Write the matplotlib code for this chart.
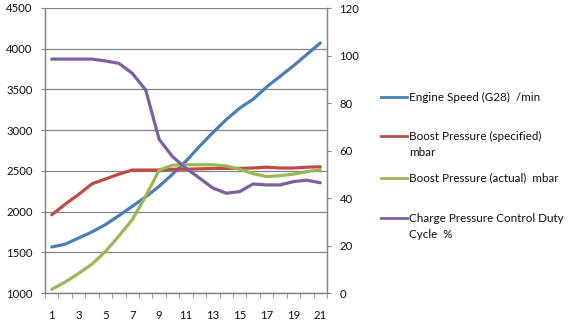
import matplotlib
matplotlib.use("Agg")
import matplotlib.pyplot as plt
from matplotlib.lines import Line2D
import numpy as np

plt.rcParams["font.family"] = ["Lato", "DejaVu Sans"]

# categories 1..21
samples = list(range(1, 22))

engine_speed = [1565, 1600, 1675, 1750, 1840, 1950, 2065, 2180, 2310, 2460, 2620,
                2800, 2970, 3130, 3270, 3380, 3530, 3660, 3790, 3930, 4070]
boost_specified = [1960, 2090, 2210, 2340, 2400, 2460, 2510, 2510, 2510, 2520, 2520,
                   2525, 2530, 2530, 2530, 2535, 2545, 2535, 2535, 2545, 2550]
boost_actual = [1045, 1135, 1240, 1355, 1510, 1700, 1900, 2190, 2510, 2570, 2575,
                2575, 2575, 2560, 2520, 2465, 2430, 2440, 2460, 2490, 2515]
duty_cycle = [98.5, 98.5, 98.5, 98.5, 97.7, 96.7, 92.5, 85.5, 64.7, 57.4, 52.5,
              48.4, 44.2, 42.0, 42.7, 45.9, 45.5, 45.5, 46.9, 47.5, 46.4]

labels = ["Engine Speed (G28)  /min",
          "Boost Pressure (specified)\nmbar",
          "Boost Pressure (actual)  mbar",
          "Charge Pressure Control Duty\nCycle  %"]
colors = ["#4A7EBB", "#BE4B48", "#98B954", "#7D60A0"]

left_ticks = list(range(1000, 4501, 500))
right_ticks = list(range(0, 121, 20))
x_labels = samples[::2]

W, H = 573, 324
fig = plt.figure(figsize=(W / 100, H / 100), dpi=100)
ax = fig.add_axes([45 / W, 1 - 293 / H, (327 - 45) / W, (293 - 8) / H])
ax2 = ax.twinx()

grid_c = "#868686"
lw = 2.3

ax.plot(samples, engine_speed, color=colors[0], lw=lw, solid_capstyle="round")
ax.plot(samples, boost_specified, color=colors[1], lw=lw, solid_capstyle="round")
ax.plot(samples, boost_actual, color=colors[2], lw=lw, solid_capstyle="round")
ax2.plot(samples, duty_cycle, color=colors[3], lw=lw, solid_capstyle="round")

ax.set_xlim(0.5, 21.5)
ax.set_ylim(1000, 4500)
ax2.set_ylim(0, 120)
ax.set_yticks(left_ticks)
ax2.set_yticks(right_ticks)
ax.set_xticks(x_labels)
ax.set_xticks(np.arange(0.5, 22, 1), minor=True)

ax.yaxis.grid(True, color=grid_c, lw=0.9)
ax.set_axisbelow(True)

for a in (ax, ax2):
    for s in a.spines.values():
        s.set_color(grid_c)
        s.set_linewidth(0.9)
ax.spines["top"].set_visible(False)
ax2.spines["top"].set_visible(False)

ax.tick_params(axis="x", which="major", length=0, pad=12, labelsize=8.2,
               labelcolor="#111111")
ax.tick_params(axis="x", which="minor", length=3.5, color=grid_c, direction="out")
ax.tick_params(axis="y", length=3, color=grid_c, pad=6, labelsize=8.2,
               labelcolor="#111111")
ax2.tick_params(axis="y", length=3, color=grid_c, pad=6, labelsize=8.2,
                labelcolor="#111111")

# legend, drawn to the right of the plot
leg_y = [97, 136, 178, 218]
for lab, c, y in zip(labels, colors, leg_y):
    fig.add_artist(Line2D([381 / W, 407 / W], [1 - y / H, 1 - y / H],
                          color=c, lw=2.0, transform=fig.transFigure))
    for i, part in enumerate(lab.split("\n")):
        fig.text(409 / W, 1 - (y + i * 17) / H, part, fontsize=8.4,
                 va="center", ha="left", color="#111111")

fig.savefig("out.png", dpi=100)
